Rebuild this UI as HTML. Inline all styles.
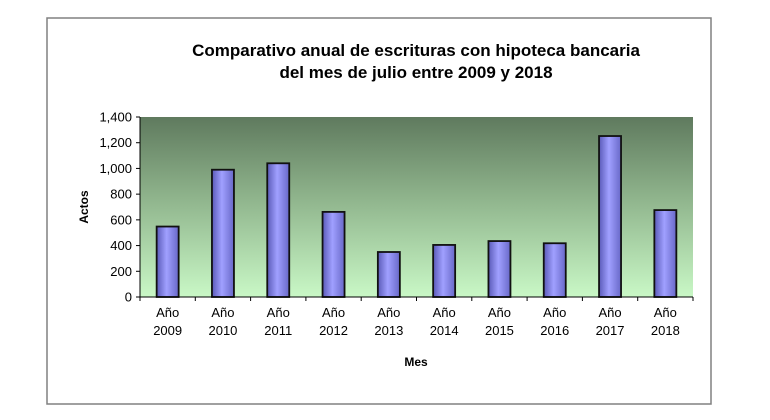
<!DOCTYPE html>
<html><head><meta charset="utf-8"><style>
body{margin:0;background:#fff;}
svg{display:block;font-family:"Liberation Sans",Arial,sans-serif;}
</style></head><body>
<svg id="chart" width="770" height="420" viewBox="0 0 770 420">
<defs>
<linearGradient id="bg" x1="0" y1="0" x2="0" y2="1">
<stop offset="0" stop-color="#5f7a5e"/><stop offset="0.45" stop-color="#8fb48c"/><stop offset="1" stop-color="#c9f8c6"/>
</linearGradient>
<linearGradient id="bar" x1="0" y1="0" x2="1" y2="0">
<stop offset="0" stop-color="#5a5ab8"/><stop offset="0.45" stop-color="#a0a0ff"/><stop offset="1" stop-color="#6868c8"/>
</linearGradient>
</defs>
<rect x="47" y="18" width="664" height="386" fill="#fff" stroke="#808080" stroke-width="1.5"/>
<text x="416" y="56" text-anchor="middle" font-size="17" font-weight="bold">Comparativo anual de escrituras con hipoteca bancaria</text>
<text x="416" y="78" text-anchor="middle" font-size="17" font-weight="bold">del mes de julio entre 2009 y 2018</text>
<rect x="140" y="117" width="553" height="180" fill="url(#bg)"/>
<g id="marks"></g>
<text x="0" y="0" transform="translate(88,207) rotate(-90)" text-anchor="middle" font-size="12" font-weight="bold">Actos</text>
<text x="416" y="366" text-anchor="middle" font-size="12" font-weight="bold">Mes</text>
</svg>
<script>
const categories = ["2009","2010","2011","2012","2013","2014","2015","2016","2017","2018"];
const values = [548, 990, 1040, 662, 350, 405, 435, 418, 1252, 676];
const yTicks = [0,200,400,600,800,1000,1200,1400];
const yTickLabels = ["0","200","400","600","800","1,000","1,200","1,400"];
const NS="http://www.w3.org/2000/svg";
const L=140,R=693,T=117,B=297,YMAX=1400;
const g=document.getElementById('marks');
const cw=(R-L)/categories.length;
function y(v){return B-(v/YMAX)*(B-T);}
function x(i){return L+cw*(i+0.5);}
function mk(t,a){const e=document.createElementNS(NS,t);for(const k in a)e.setAttribute(k,a[k]);g.appendChild(e);return e;}
values.forEach((v,i)=>{
 const r=mk('rect',{x:x(i)-11,y:y(v),width:22,height:B-y(v),fill:'url(#bar)',stroke:'#111','stroke-width':1.8});
 
 
});
const ax=mk('line',{x1:L,y1:T,x2:L,y2:B,stroke:'#000','stroke-width':1});


const bx=mk('line',{x1:L,y1:B,x2:R,y2:B,stroke:'#000','stroke-width':1});


yTicks.forEach((t,i)=>{
 mk('line',{x1:L-4,y1:y(t),x2:L,y2:y(t),stroke:'#000'});
 const tx=mk('text',{x:L-8,y:y(t)+4.5,'text-anchor':'end','font-size':13});
 tx.textContent=yTickLabels[i];
 
 
});
for(let i=0;i<=categories.length;i++){mk('line',{x1:L+cw*i,y1:B,x2:L+cw*i,y2:B+4,stroke:'#000'});}
categories.forEach((c,i)=>{
 const a=mk('text',{x:x(i),y:317,'text-anchor':'middle','font-size':13});
 a.textContent='Año';
 
 
 const b=mk('text',{x:x(i),y:335,'text-anchor':'middle','font-size':13});
 b.textContent=c;
 
 
});
</script>
</body></html>
